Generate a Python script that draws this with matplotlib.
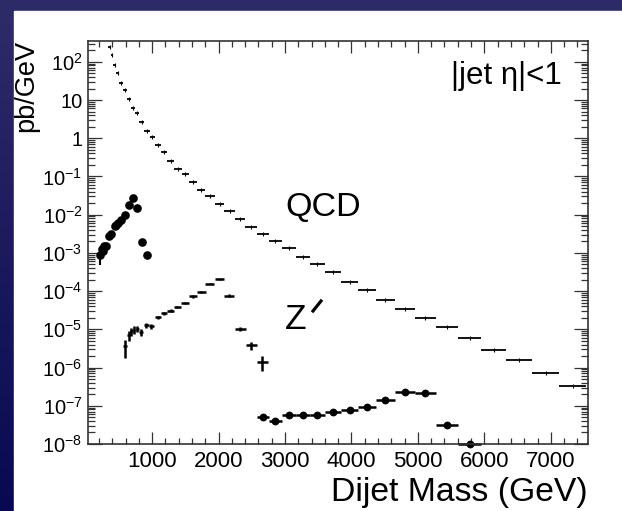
import numpy as np
import matplotlib
matplotlib.use("Agg")
import matplotlib.pyplot as plt
from matplotlib.ticker import FixedLocator, LogLocator, NullFormatter, MultipleLocator
from matplotlib.patches import Rectangle
from matplotlib.lines import Line2D

plt.rcParams['font.family'] = ['Liberation Sans', 'DejaVu Sans']
plt.rcParams['mathtext.fontset'] = 'custom'
plt.rcParams['mathtext.rm'] = 'Liberation Sans'
plt.rcParams['mathtext.it'] = 'Liberation Sans'

# QCD background: bin edges (GeV) and pb/GeV per bin
qcd_edges = [340, 378, 414, 458, 508, 558, 617, 677, 740, 808, 880, 965, 1045,
             1129, 1219, 1335, 1445, 1555, 1675, 1802, 1942, 2087, 2243, 2404,
             2577, 2755, 2950, 3159, 3372, 3598, 3845, 4099, 4370, 4651, 4952,
             5270, 5600, 5957, 6322, 6718, 7125, 7537]
qcd_vals = [241, 150, 83, 50, 28, 18.5, 10.8, 6.3, 4.5, 2.6, 1.55, 1.07, 0.68,
            0.44, 0.26, 0.16, 0.113, 0.072, 0.045, 0.031, 0.0188, 0.0122,
            0.0076, 0.0047, 0.0031, 0.0020, 0.00131, 0.00078, 0.00051,
            3.2e-4, 1.74e-4, 1.1e-4, 6.0e-5, 3.5e-5, 1.95e-5, 1.15e-5,
            6.0e-6, 2.9e-6, 1.55e-6, 7.4e-7, 3.2e-7]

# low-mass Z' (filled circles)
low_x = [215, 245, 262, 278, 311, 346, 387, 437, 462, 486, 531, 587, 647, 712, 778, 845, 923]
low_y = [8.9e-4, 1.3e-3, 1.1e-3, 1.5e-3, 1.55e-3, 2.7e-3, 3.2e-3, 5.1e-3, 5.4e-3,
         6.0e-3, 7.1e-3, 1.0e-2, 1.74e-2, 2.75e-2, 1.46e-2, 1.9e-3, 8.9e-4]
low_err_dn = [4.0e-4, 0, 0, 0, 0, 0, 0, 0, 0, 0, 0, 0, 0, 0, 0, 0, 0]
low_err_up = [2.0e-4, 0, 0, 0, 0, 0, 0, 0, 0, 0, 0, 0, 0, 0, 0, 0, 0]

# Z' (crosses)
zp_x = [592, 647, 688, 723, 778, 828, 914, 989, 1094, 1179, 1280, 1380, 1495,
        1615, 1742, 1867, 2017, 2157, 2329, 2494, 2660]
zp_halfw = [25, 22, 18, 18, 25, 30, 40, 40, 45, 45, 50, 55, 55, 60, 63, 70, 72,
            78, 80, 86, 89]
zp_y = [3.6e-6, 6.9e-6, 8.9e-6, 9.8e-6, 1.04e-5, 8.5e-6, 1.3e-5, 1.2e-5, 2.07e-5,
        2.6e-5, 3.1e-5, 3.9e-5, 4.9e-5, 7.3e-5, 9.3e-5, 1.58e-4, 2.1e-4, 7.6e-5,
        1.03e-5, 3.8e-6, 1.4e-6]
zp_err = [1.8e-6, 2.0e-6, 2.2e-6, 2.4e-6, 2.0e-6, 2.0e-6, 2.0e-6, 1.8e-6, 2.0e-6,
          2.6e-6, 2.5e-6, 3.0e-6, 3.4e-6, 5.0e-6, 5.5e-6, 8.0e-6, 1.0e-5, 6.0e-6,
          1.2e-6, 9.5e-7, 6.0e-7]

# high-mass Z' (filled circles with bin widths), bins 24..36 of qcd_edges
hi_first_bin = 24
hi_y = [5.0e-8, 4.1e-8, 5.9e-8, 5.6e-8, 5.8e-8, 6.7e-8, 7.9e-8, 9.3e-8, 1.4e-7,
        2.26e-7, 2.2e-7, 3.1e-8, 1.03e-8]

xticks = [1000, 2000, 3000, 4000, 5000, 6000, 7000]
yticks = [1e-8, 1e-7, 1e-6, 1e-5, 1e-4, 1e-3, 1e-2, 1e-1, 1, 10, 100]
ylabels = [r'$10^{-8}$', r'$10^{-7}$', r'$10^{-6}$', r'$10^{-5}$', r'$10^{-4}$',
           r'$10^{-3}$', r'$10^{-2}$', r'$10^{-1}$', '1', '10', r'$10^{2}$']

W, H = 622, 511
fig = plt.figure(figsize=(W / 100, H / 100), dpi=100)

# blue slide background
bg = fig.add_axes([0, 0, 1, 1], zorder=-10)
grad = np.linspace(0, 1, 256).reshape(-1, 1)
cmap = matplotlib.colors.LinearSegmentedColormap.from_list('slide', ['#2e2c68', '#0a0852'])
bg.imshow(grad, aspect='auto', cmap=cmap, extent=[0, 1, 0, 1], origin='upper')
bg.add_patch(Rectangle((14 / W, 0), 1, 1 - 11 / H, color='white', transform=bg.transAxes))
bg.set_xlim(0, 1)
bg.set_ylim(0, 1)
bg.axis('off')

ax = fig.add_axes([88 / W, 1 - 444 / H, 500 / W, 403 / H])
ax.set_facecolor('white')
ax.set_yscale('log')

edges = np.array(qcd_edges, dtype=float)
centers = 0.5 * (edges[1:] + edges[:-1])
halfw = 0.5 * (edges[1:] - edges[:-1])
ax.errorbar(centers, qcd_vals, xerr=halfw, fmt='|', color='black', ms=2.5,
            mew=0.8, elinewidth=1.3, capsize=0)

ax.errorbar(low_x, low_y, yerr=[low_err_dn, low_err_up], fmt='o', color='black',
            ms=5.2, elinewidth=1.5, capsize=0)

ax.errorbar(zp_x, zp_y, xerr=zp_halfw, yerr=zp_err, fmt='none', ecolor='black',
            elinewidth=1.8, capsize=0)

nh = len(hi_y)
hc = centers[hi_first_bin:hi_first_bin + nh]
hw = halfw[hi_first_bin:hi_first_bin + nh]
ax.errorbar(hc, hi_y, xerr=hw, fmt='o', color='black', ms=4.6, elinewidth=1.8,
            capsize=0, clip_on=False)

ax.set_xlim(35, 7560)
ax.set_ylim(1e-8, 3.5e2)

ax.xaxis.set_major_locator(FixedLocator(xticks))
ax.xaxis.set_minor_locator(MultipleLocator(200))
ax.set_xticklabels([str(t) for t in xticks])
ax.yaxis.set_major_locator(FixedLocator(yticks))
ax.set_yticklabels(ylabels)
ax.yaxis.set_minor_locator(LogLocator(base=10, subs=np.arange(2, 10), numticks=30))
ax.yaxis.set_minor_formatter(NullFormatter())

ax.tick_params(which='both', direction='in', top=True, right=True, color='#333333',
               width=0.9)
ax.tick_params(axis='x', which='major', length=8.5, pad=5, labelsize=16)
ax.tick_params(axis='x', which='minor', length=4)
ax.tick_params(axis='y', which='major', length=10, pad=4, labelsize=14.5)
ax.tick_params(axis='y', which='minor', length=5)
for s in ax.spines.values():
    s.set_linewidth(1.2)
    s.set_color('#333333')

ax.text(0.948, 0.913, '|jet η|<1', transform=ax.transAxes, ha='right', va='center',
        fontsize=22.5)
ax.text(0.395, 0.588, 'QCD', transform=ax.transAxes, ha='left', va='center',
        fontsize=24.5)
ax.text(0.394, 0.31, 'Z', transform=ax.transAxes, ha='left', va='center',
        fontsize=25.5)
# the prime stroke after Z
fig.add_artist(Line2D([313 / W, 321 / W], [1 - 311 / H, 1 - 301 / H], color='black',
                      linewidth=2.3, transform=fig.transFigure))

fig.text(588 / W, 1 - 492 / H, 'Dijet Mass (GeV)', ha='right', va='center', fontsize=24.3)
fig.text(26 / W, 1 - 40 / H, 'pb/GeV', rotation=90, ha='center', va='top', fontsize=19.5)

fig.savefig('out.png', dpi=100)
